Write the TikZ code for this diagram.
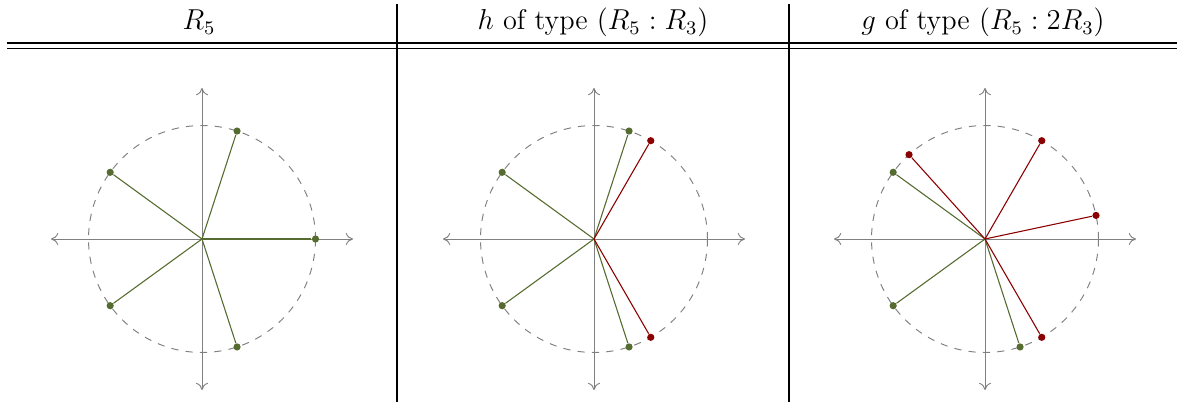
\documentclass[tikz,border=0pt]{standalone}
\usetikzlibrary{calc,arrows.meta}
\definecolor{ptgreen}{RGB}{85,107,47}
\definecolor{ptred}{RGB}{139,0,0}
\begin{document}
\begin{tikzpicture}[x=0.4167pt,y=0.4167pt,
  rule/.style={line width=0.45pt,black},
  axis/.style={gray,line width=0.4pt,{To[length=3pt,width=5pt]}-{To[length=3pt,width=5pt]}},
  ring/.style={gray,dashed,line width=0.4pt},
  gdot/.style={circle,fill=ptgreen,inner sep=0pt,minimum size=3pt},
  rdot/.style={circle,fill=ptred,inner sep=0pt,minimum size=3pt},
  gline/.style={ptgreen,line width=0.45pt},
  rline/.style={ptred,line width=0.45pt},
  head/.style={anchor=base,inner sep=0pt,font=\fontsize{11.8pt}{14pt}\selectfont}]
\useasboundingbox (0,0) rectangle (1177,402);
% table
\draw[rule] (7,359) -- (1177,359);
\draw[rule] (7,353.5) -- (1177,353.5);
\draw[rule] (397,398) -- (397,0);
\draw[rule] (789,398) -- (789,0);
\node[head] (h1) at (199,372) {$R_5$};
\node[head] (h2) at (593,372) {$h$ of type $(R_5:R_3)$};
\node[head] (h3) at (983,372) {$g$ of type $(R_5:2R_3)$};
% panels
\foreach \i/\cx in {1/202,2/594,3/985}{
  \coordinate (o\i) at (\cx,163);
  \coordinate (l\i) at (\cx-151,163);
  \coordinate (r\i) at (\cx+151,163);
  \coordinate (b\i) at (\cx,12);
  \coordinate (t\i) at (\cx,314);
  \draw[axis] (l\i) -- (r\i);
  \draw[axis] (b\i) -- (t\i);
  \draw[ring] (o\i) circle (113.5);
}
% panel 1
\foreach \a/\n in {0/a,72/b,144/c,216/d,288/e}{
  \node[gdot] (p1\n) at ($(o1)+(\a:113.5)$) {};
  \draw[gline] (o1) -- (p1\n);
}
% panel 2
\foreach \a/\n in {72/b,144/c,216/d,288/e}{
  \node[gdot] (p2\n) at ($(o2)+(\a:113.5)$) {};
  \draw[gline] (o2) -- (p2\n);
}
\foreach \a/\n in {60/f,300/g}{
  \node[rdot] (p2\n) at ($(o2)+(\a:113.5)$) {};
  \draw[rline] (o2) -- (p2\n);
}
% panel 3
\foreach \a/\n in {144/c,216/d,288/e}{
  \node[gdot] (p3\n) at ($(o3)+(\a:113.5)$) {};
  \draw[gline] (o3) -- (p3\n);
}
\foreach \a/\n in {12/f,60/g,132/h,300/i}{
  \node[rdot] (p3\n) at ($(o3)+(\a:113.5)$) {};
  \draw[rline] (o3) -- (p3\n);
}
\end{tikzpicture}
\end{document}
